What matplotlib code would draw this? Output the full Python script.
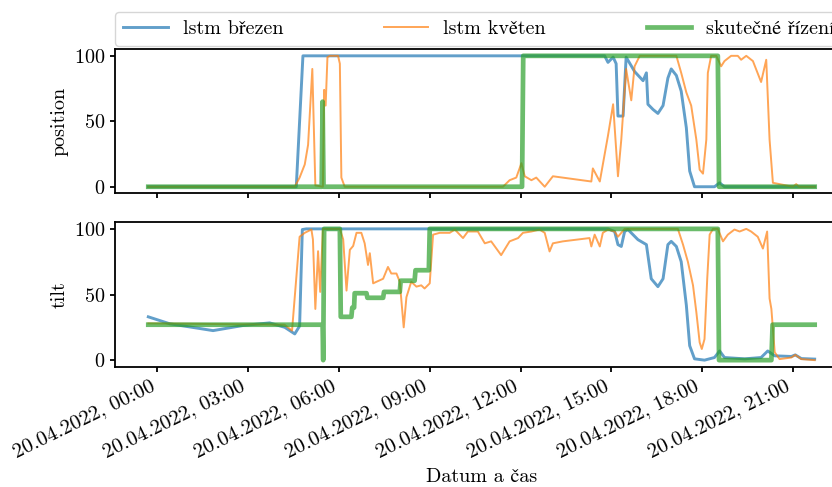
import numpy as np
import pandas as pd
import matplotlib
matplotlib.use("Agg")
import matplotlib.pyplot as plt
import matplotlib.dates as mdates

plt.rcParams['font.family'] = ['cmr10', 'STIXGeneral']
plt.rcParams['axes.formatter.use_mathtext'] = True
plt.rcParams['axes.unicode_minus'] = False
plt.rcParams['axes.linewidth'] = 1.3
plt.rcParams['xtick.major.width'] = 1.3
plt.rcParams['ytick.major.width'] = 1.3

# hours since 20.04.2022 00:00
pos_brezen_h = [-0.3, 4.59, 4.81, 14.78, 14.89, 15.06, 15.16, 15.22, 15.39, 15.49, 15.77, 16.05,
                16.16, 16.21, 16.38, 16.54, 16.71, 16.87, 16.98, 17.15, 17.31, 17.48, 17.59,
                17.75, 18.08, 18.41, 18.58, 18.74, 21.72]
pos_brezen = [0, 0, 100, 100, 95, 99, 94, 54, 54, 99, 88, 81,
              87, 63, 59, 56, 62, 83, 90, 85, 73, 45, 12,
              0, 0, 0, 3, 0, 0]

pos_kveten_h = [-0.3, 4.54, 4.70, 4.87, 4.98, 5.12, 5.22, 5.47, 5.51, 5.56, 5.62, 5.70,
                5.97, 6.03, 6.08, 6.19, 11.42, 11.64, 11.86, 12.03, 12.14, 12.36, 12.52,
                12.80, 13.07, 14.34, 14.39, 14.62, 14.89, 15.06, 15.22, 15.33, 15.49, 15.66,
                15.77, 15.94, 17.15, 17.31, 17.48, 17.64, 17.81, 17.92, 18.03, 18.14, 18.19,
                18.30, 18.47, 18.63, 18.74, 18.96, 19.18, 19.29, 19.46, 19.68, 19.95, 20.12,
                20.23, 20.34, 21.0, 21.11, 21.2, 21.72]
pos_kveten = [0, 0, 7, 17, 32, 90, 1, 0, 74, 62, 99, 100,
              100, 94, 7, 0, 0, 5, 7, 18, 8, 5, 7,
              0, 8, 4, 14, 4, 39, 63, 8, 36, 90, 66,
              92, 100, 100, 87, 72, 62, 36, 13, 10, 36, 87,
              100, 100, 92, 96, 100, 100, 97, 100, 96, 80, 97,
              36, 3, 0, 2, 0, 0]

pos_real_h = [-0.3, 5.43, 5.46, 5.49, 12.05, 12.09, 18.52, 18.56, 21.72]
pos_real = [0, 0, 65, 0, 0, 100, 100, 0, 0]

tilt_brezen_h = [-0.3, 0.41, 1.84, 2.83, 3.71, 4.21, 4.54, 4.70, 4.79, 4.92, 14.89, 15.11,
                 15.22, 15.33, 15.44, 15.55, 15.88, 16.16, 16.32, 16.54, 16.71, 16.87, 16.98,
                 17.15, 17.31, 17.48, 17.59, 17.75, 18.08, 18.41, 18.58, 18.74, 19.41, 19.95,
                 20.17, 20.40, 20.95, 21.08, 21.28, 21.72]
tilt_brezen = [33, 27.7, 22.5, 26.4, 28.4, 25, 20, 26, 99.5, 100, 100, 98,
               88, 86.6, 98, 99.5, 91.8, 88, 62, 56, 62, 88, 90.5,
               86.6, 75, 41.8, 11, 1, 0, 2, 7, 2, 1, 2,
               7, 3.3, 2.8, 4, 1.2, 0.8]

tilt_kveten_h = [-0.3, 4.2, 4.45, 4.70, 4.87, 5.09, 5.14, 5.22, 5.31, 5.38, 5.47, 6.03,
                 6.14, 6.25, 6.36, 6.47, 6.58, 6.74, 6.85, 6.96, 7.02, 7.13, 7.24,
                 7.46, 7.62, 7.73, 7.90, 8.01, 8.14, 8.23, 8.39, 8.56, 8.72, 8.83,
                 9.00, 9.11, 9.33, 9.66, 9.83, 10.10, 10.26, 10.59, 10.82, 11.03, 11.36,
                 11.64, 11.92, 12.08, 12.36, 12.63, 12.80, 12.96, 13.07, 13.40, 14.28, 14.34,
                 14.45, 14.62, 14.72, 14.89, 15.11, 15.22, 15.44, 17.2, 17.37, 17.53, 17.70,
                 17.81, 17.92, 17.99, 18.08, 18.17, 18.25, 18.36, 18.52, 18.69, 18.85, 19.07,
                 19.24, 19.46, 19.62, 19.84, 20.01, 20.15, 20.23, 20.29, 20.40, 20.56, 20.95,
                 21.08, 21.28, 21.72]
tilt_kveten = [28, 27, 22.5, 94, 97, 99.5, 92, 39, 83, 52, 100, 100,
               92, 53, 84, 87, 97, 97, 89, 72.5, 81.5, 58.5, 59.7,
               62, 71, 66, 66, 59.7, 25, 48, 59.7, 56, 57, 54.6,
               58.5, 95.6, 97, 97, 99.5, 93, 98, 98, 89, 90.5, 80,
               90.5, 93, 97, 98, 99.5, 97, 82.8, 89, 90.5, 93, 86.6,
               95.6, 86.6, 97, 99.5, 98, 94, 100, 100, 88, 75, 57,
               36.6, 13.5, 8.5, 16, 62, 95.6, 100, 100, 90.5, 95.6, 99.5,
               98, 100, 98, 94, 85, 98, 47, 39, 6, 0.8, 2,
               4, 0.8, 0]

tilt_real_h = [-0.3, 5.46, 5.48, 5.51, 6.03, 6.06, 6.41, 6.44, 6.50, 6.52, 6.91, 6.94,
               7.46, 7.49, 8.01, 8.04, 8.50, 8.53, 8.97, 9.00, 18.52, 18.56, 20.29, 20.33, 21.72]
tilt_real = [27, 27, 0, 100, 100, 33, 33, 40, 40, 51, 51, 47.5,
             47.5, 52, 52, 60.5, 60.5, 68.5, 68.5, 100, 100, 0, 0, 27, 27]

labels = ['lstm březen', 'lstm květen', 'skutečné řízení']
start = pd.Timestamp('2022-04-20 00:00')


def to_time(hours):
    return start + pd.to_timedelta(np.array(hours), unit='h')


fig = plt.figure(figsize=(8.32, 4.87), dpi=100)
ax1 = fig.add_axes([0.1382, 0.6031, 0.881, 0.2957])
ax2 = fig.add_axes([0.1382, 0.2470, 0.881, 0.2965], sharex=ax1)

styles = [dict(color='tab:blue', lw=2.1, alpha=0.7),
          dict(color='tab:orange', lw=1.4, alpha=0.7),
          dict(color='tab:green', lw=3.4, alpha=0.7)]

panels = [
    (ax1, [(pos_brezen_h, pos_brezen), (pos_kveten_h, pos_kveten), (pos_real_h, pos_real)], 'position'),
    (ax2, [(tilt_brezen_h, tilt_brezen), (tilt_kveten_h, tilt_kveten), (tilt_real_h, tilt_real)], 'tilt'),
]

fs = 14.5
for ax, series, ylab in panels:
    for (h, v), st, lab in zip(series, styles, labels):
        ax.plot(to_time(h), v, label=lab, **st)
    ax.set_ylabel(ylab, fontsize=fs)
    ax.set_yticks([0, 50, 100])
    ax.tick_params(labelsize=fs)

ax1.tick_params(labelbottom=False)
ax2.xaxis.set_major_locator(mdates.HourLocator(byhour=range(0, 24, 3)))
ax2.xaxis.set_major_formatter(mdates.DateFormatter('%d.%m.%Y, %H:%M'))
for lbl in ax2.get_xticklabels():
    lbl.set_rotation(26)
    lbl.set_ha('right')
    lbl.set_fontsize(15)
ax2.set_xlabel('Datum a čas', fontsize=fs, labelpad=5)

ax1.legend(loc='lower left', bbox_to_anchor=(0.1387, 0.9055), bbox_transform=fig.transFigure,
           ncol=3, fontsize=fs, columnspacing=5.0, handlelength=2.2, handletextpad=0.75,
           borderaxespad=0)

fig.savefig('out.png', dpi=100)
